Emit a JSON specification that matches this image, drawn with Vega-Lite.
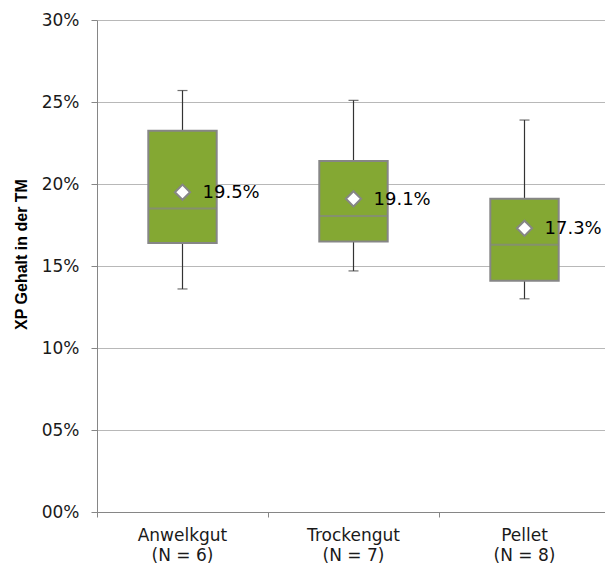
{
  "$schema": "https://vega.github.io/schema/vega-lite/v6.json",
  "width": 513,
  "height": 492,
  "autosize": "none",
  "padding": {"left": 97, "top": 20, "right": 0, "bottom": 56},
  "background": "white",
  "config": {
    "view": {"stroke": null},
    "font": "DejaVu Sans"
  },
  "data": {
    "values": [
      {"cat": "Anwelkgut (N = 6)", "min": 0.136, "q1": 0.164, "median": 0.185, "q3": 0.2325, "max": 0.257, "mean": 0.195, "label": "19.5%"},
      {"cat": "Trockengut (N = 7)", "min": 0.147, "q1": 0.165, "median": 0.1805, "q3": 0.214, "max": 0.251, "mean": 0.191, "label": "19.1%"},
      {"cat": "Pellet (N = 8)", "min": 0.130, "q1": 0.141, "median": 0.163, "q3": 0.191, "max": 0.239, "mean": 0.173, "label": "17.3%"}
    ]
  },
  "encoding": {
    "x": {
      "field": "cat",
      "type": "nominal",
      "sort": null,
      "scale": {"paddingInner": 0, "paddingOuter": 0},
      "axis": {
        "title": null,
        "labelAngle": 0,
        "bandPosition": 0,
        "domainColor": "#868686",
        "tickColor": "#868686",
        "tickSize": 5,
        "labelPadding": 10,
        "labelFont": "DejaVu Sans",
        "labelFontSize": 17,
        "labelColor": "#1a1a1a",
        "labelLineHeight": 20,
        "labelExpr": "[slice(datum.label, 0, indexof(datum.label, ' (')), slice(datum.label, indexof(datum.label, ' (') + 1)]",
        "grid": false
      }
    }
  },
  "layer": [
    {
      "mark": {"type": "rule", "color": "#333333", "strokeWidth": 1.2},
      "encoding": {
        "y": {
          "field": "min",
          "type": "quantitative",
          "scale": {"domain": [0, 0.3], "nice": false},
          "axis": {
            "title": "XP Gehalt in der TM",
            "titleFont": "Liberation Sans",
            "titleFontSize": 16,
            "titleFontWeight": "bold",
            "titleColor": "#000000",
            "titleAngle": -90,
            "titleAlign": "center",
            "titleBaseline": "middle",
            "titleX": -76,
            "titleY": 234,
            "values": [0, 0.05, 0.1, 0.15, 0.2, 0.25, 0.3],
            "labelExpr": "(datum.value < 0.095 ? '0' : '') + format(datum.value, '.0%')",
            "labelFont": "DejaVu Sans",
            "labelFontSize": 17,
            "labelColor": "#1a1a1a",
            "labelPadding": 12,
            "tickSize": 6,
            "tickColor": "#868686",
            "domainColor": "#868686",
            "gridColor": "#b8b8b8",
            "gridWidth": 1.2
          }
        },
        "y2": {"field": "max"}
      }
    },
    {
      "mark": {"type": "tick", "color": "#333333", "thickness": 1.2, "size": 10},
      "encoding": {"y": {"field": "min", "type": "quantitative"}}
    },
    {
      "mark": {"type": "tick", "color": "#333333", "thickness": 1.2, "size": 10},
      "encoding": {"y": {"field": "max", "type": "quantitative"}}
    },
    {
      "mark": {"type": "bar", "fill": "#84a833", "stroke": "#868686", "strokeWidth": 2, "width": {"band": 0.4}},
      "encoding": {
        "y": {"field": "q1", "type": "quantitative"},
        "y2": {"field": "q3"}
      }
    },
    {
      "mark": {"type": "tick", "color": "#868686", "thickness": 2, "size": 68},
      "encoding": {"y": {"field": "median", "type": "quantitative"}}
    },
    {
      "mark": {"type": "point", "shape": "diamond", "filled": true, "fill": "white", "stroke": "#868686", "strokeWidth": 2, "size": 230, "opacity": 1},
      "encoding": {"y": {"field": "mean", "type": "quantitative"}}
    },
    {
      "mark": {"type": "text", "align": "left", "baseline": "middle", "dx": 20, "dy": 1, "font": "DejaVu Sans", "fontSize": 18, "color": "#000000"},
      "encoding": {
        "y": {"field": "mean", "type": "quantitative"},
        "text": {"field": "label"}
      }
    }
  ]
}
